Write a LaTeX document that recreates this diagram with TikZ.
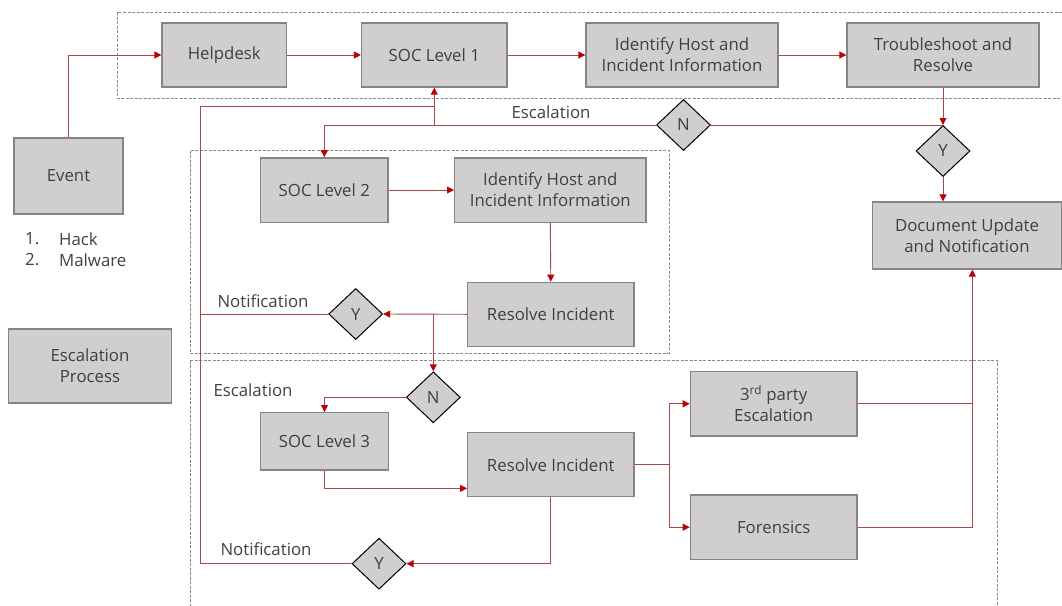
\documentclass[tikz,border=0pt]{standalone}
\usepackage{fontspec}
\setmainfont{Open Sans}
\usetikzlibrary{shapes.geometric,arrows.meta}
\definecolor{boxfill}{HTML}{D0CECE}
\definecolor{boxline}{HTML}{858585}
\definecolor{txt}{HTML}{404040}
\definecolor{lnk}{HTML}{A84848}
\definecolor{tipc}{HTML}{C00000}
\definecolor{grpc}{HTML}{8A8A8A}
\begin{document}
\begin{tikzpicture}[x=1pt,y=-1pt,
 box/.style={draw=boxline,line width=1.3pt,fill=boxfill,text=txt,font=\fontsize{16.8}{21}\selectfont,align=center,inner sep=0pt},
 dia/.style={diamond,draw=black,line width=1pt,fill=boxfill,minimum width=54pt,minimum height=51pt,inner sep=0pt,text=txt,font=\fontsize{16.8}{21}\selectfont},
 link/.style={draw=lnk,line width=0.9pt},
 arr/.style={link,-{Triangle[length=7pt,width=7pt,color=tipc]}},
 grp/.style={draw=grpc,dash pattern=on 3pt off 1.5pt,line width=1pt},
 lbl/.style={text=txt,font=\fontsize{16.8}{21}\selectfont,inner sep=0pt}
]
\useasboundingbox (0,0) rectangle (1062,605);
% groups
\draw[grp] (117,12) rectangle (1075,98);
\draw[grp] (190,150.7) rectangle (669,353);
\draw[grp] (190,360.7) -- (997.3,360.7) -- (997.3,620);
\draw[grp] (190,360.7) -- (190,620);
% boxes
\node[box,minimum width=124.5pt,minimum height=64pt] (help) at (224.3,55) {Helpdesk};
\node[box,minimum width=145.4pt,minimum height=64pt] (soc1) at (434.3,55) {SOC Level 1};
\node[box,minimum width=192pt,minimum height=64pt] (id1) at (682,55) {Identify Host and\\Incident Information};
\node[box,minimum width=192pt,minimum height=64pt] (ts) at (943,55) {Troubleshoot and\\Resolve};
\node[box,minimum width=109pt,minimum height=76pt] (event) at (68.5,176) {Event};
\node[box,minimum width=163.4pt,minimum height=74pt] (escp) at (90,366) {Escalation\\Process};
\node[box,minimum width=189pt,minimum height=67pt] (doc) at (967,235.5) {Document Update\\and Notification};
\node[box,minimum width=127.3pt,minimum height=64.3pt] (soc2) at (324.3,190) {SOC Level 2};
\node[box,minimum width=191.3pt,minimum height=64.3pt] (id2) at (550.3,190) {Identify Host and\\Incident Information};
\node[box,minimum width=166.3pt,minimum height=64pt] (res2) at (550.8,314.3) {Resolve Incident};
\node[box,minimum width=127.6pt,minimum height=57.3pt] (soc3) at (324.5,441.3) {SOC Level 3};
\node[box,minimum width=166.3pt,minimum height=64pt] (res3) at (550.8,464.7) {Resolve Incident};
\node[box,minimum width=166.7pt,minimum height=64.3pt] (tp) at (773.7,403.8) {3\textsuperscript{rd} party\\Escalation};
\node[box,minimum width=166.7pt,minimum height=64.3pt] (fo) at (773.7,527.2) {Forensics};
% diamonds
\node[dia] (n1) at (683.5,125) {N};
\node[dia] (y1) at (943,151) {Y};
\node[dia] (y2) at (355.7,314) {Y};
\node[dia] (n3) at (433.3,397.3) {N};
\node[dia] (y3) at (379,563.7) {Y};
% labels
\node[lbl] (lesc1) at (551,112) {Escalation};
\node[lbl] (lnot2) at (263,301) {Notification};
\node[lbl] (lesc3) at (253,390) {Escalation};
\node[lbl] (lnot3) at (266,549.3) {Notification};
\node[lbl,anchor=west] (k1) at (25,239) {1.};
\node[lbl,anchor=west] (h1) at (59,239) {Hack};
\node[lbl,anchor=west] (k2) at (25,260) {2.};
\node[lbl,anchor=west] (h2) at (59,260) {Malware};
% coordinates
\coordinate (nl) at (200.7,106.7);
\coordinate (jr) at (669.3,464.7);
\coordinate (jd) at (972.3,403.8);
% connectors
\draw[arr] (event.north) |- (help.west);
\draw[arr] (help.east) -- (soc1.west);
\draw[arr] (soc1.east) -- (id1.west);
\draw[arr] (id1.east) -- (ts.west);
\draw[arr] (ts.south) -- (y1.north);
\draw[link] (n1.east) -- (y1.north);
\draw[arr] (y1.south) -- (y1.south |- doc.north);
\draw[arr] (n1.west) -| (soc2.north);
\draw[arr] (soc1.south |- n1.west) -- (soc1.south);
\draw[link] (y3.west) -| (nl) -- (nl -| soc1.south);
\draw[link] (y2.west) -- (y2.west -| nl);
\draw[arr] (soc2.east) -- (id2.west);
\draw[arr] (id2.south) -- (res2.north);
\draw[arr] (res2.west) -- (y2.east);
\draw[arr] (n3.north |- res2.west) -- (n3.north);
\draw[arr] (n3.west) -| (soc3.north);
\draw[arr] (soc3.south) |- ([yshift=9pt]res3.south west);
\draw[arr] (res3.south) |- (y3.east);
\draw[link] (res3.east) -- (jr);
\draw[arr] (jr) |- (tp.west);
\draw[arr] (jr) |- (fo.west);
\draw[link] (tp.east) -- (tp.east -| jd);
\draw[arr] (fo.east) -| (jd |- doc.south);
\end{tikzpicture}
\end{document}
